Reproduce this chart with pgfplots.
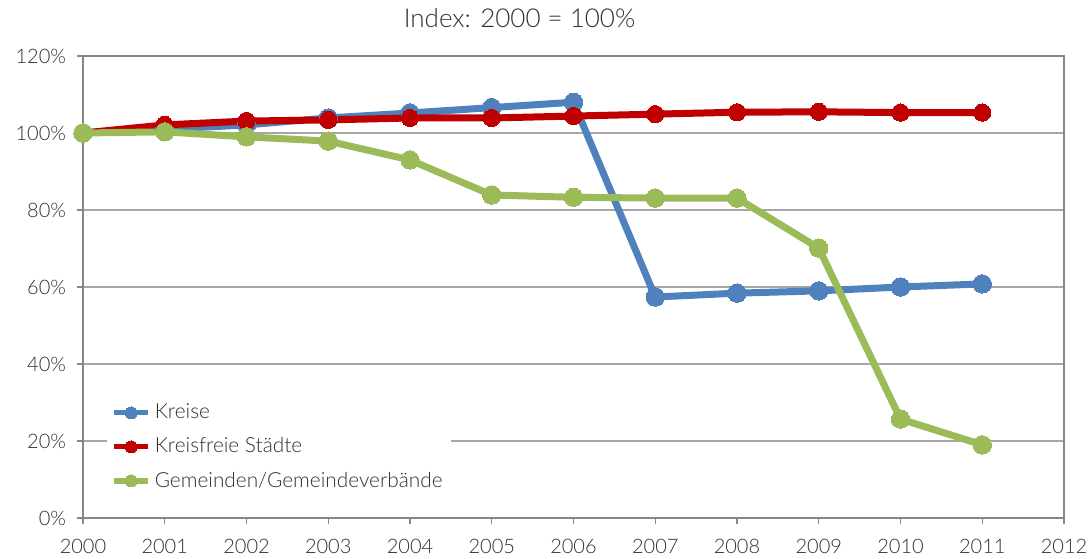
\documentclass[border=0pt]{standalone}
\usepackage{fontspec}
\setmainfont{Lato Light}
\usepackage{pgfplots}
\pgfplotsset{compat=1.18}
\definecolor{kblue}{HTML}{4F81BD}
\definecolor{kred}{HTML}{C00000}
\definecolor{kgreen}{HTML}{9BBB59}
\definecolor{txt}{HTML}{303030}
\definecolor{gridc}{HTML}{A6A6A6}
\definecolor{axc}{HTML}{868686}

\pgfplotstableread{
year kreise staedte gemeinden
2000 100.0 100.0 100.0
2001 101.0 102.1 100.3
2002 102.1 103.1  99.0
2003 103.9 103.4  97.9
2004 105.2 103.9  93.0
2005 106.6 103.9  83.9
2006 108.0 104.4  83.3
2007  57.4 104.9  83.1
2008  58.4 105.4  83.1
2009  59.0 105.5  70.1
2010  60.0 105.3  25.7
2011  60.8 105.3  19.0
}\datatable

\begin{document}
\begin{tikzpicture}
\begin{axis}[
    scale only axis,
    width=490.5pt, height=231pt,
    xmin=2000, xmax=2012, ymin=0, ymax=120,
    xtick={2000,2001,...,2012},
    xticklabels={2000,2001,2002,2003,2004,2005,2006,2007,2008,2009,2010,2011,2012},
    ytick={0,20,...,120},
    yticklabels={0\%,20\%,40\%,60\%,80\%,100\%,120\%},
    tick label style={font=\fontsize{10}{12}\selectfont, text=txt},
    xticklabel style={yshift=-4pt},
    yticklabel style={xshift=-2pt},
    tick pos=left,
    tick align=outside,
    major tick length=3pt,
    tick style={axc, line width=0.6pt},
    axis line style={axc, line width=0.6pt},
    ymajorgrids,
    grid style={gridc, line width=0.7pt},
    title={Index: 2000 = 100\%},
    title style={at={(0.445,1.055)}, anchor=center, yshift=0pt, font=\fontsize{13}{15}\selectfont, text=txt},
    legend style={at={(0.0245,0.038)}, anchor=south west, draw=none, fill=white,
        font=\fontsize{10.4}{12}\selectfont, text=txt, row sep=4pt, inner xsep=2pt, inner ysep=3pt},
    legend cell align=left,
    legend image post style={line width=2.6pt, mark size=3pt},
    every axis plot/.append style={line width=3.5pt},
]
\addplot[kblue, mark=*, mark size=4.6pt, mark options={line width=0pt}] table[x=year, y=kreise] {\datatable};
\addlegendentry{Kreise}
\addplot[kred, mark=*, mark size=4.3pt, mark options={line width=0pt}] table[x=year, y=staedte] {\datatable};
\addlegendentry{Kreisfreie Städte}
\addplot[kgreen, mark=*, mark size=4.6pt, mark options={line width=0pt}] table[x=year, y=gemeinden] {\datatable};
\addlegendentry{Gemeinden/Gemeindeverbände}
\end{axis}
\pgfresetboundingbox
\path[use as bounding box] (-41.5pt,-20pt) rectangle (504pt,259pt);
\end{tikzpicture}
\end{document}
